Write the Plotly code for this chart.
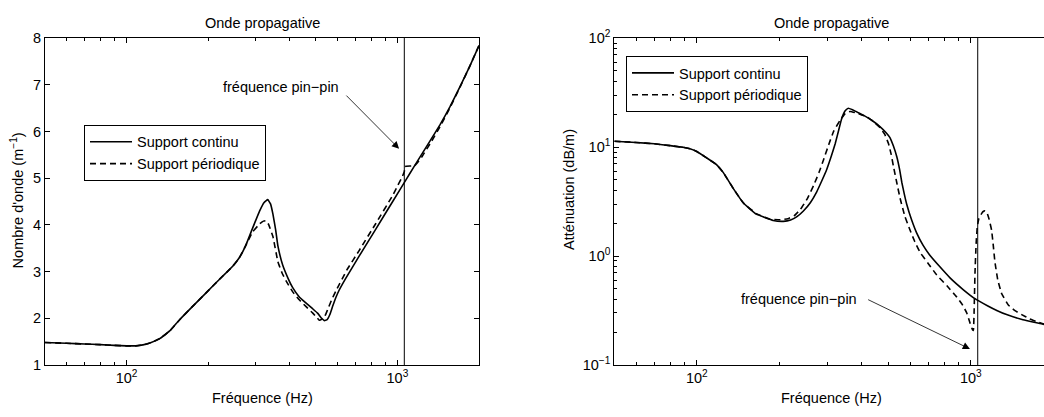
import math
import plotly.graph_objects as go

# ---------------- data ----------------
TITLE = "Onde propagative"
X_LABEL = "Fréquence (Hz)"
Y1_LABEL = "Nombre d'onde (m<sup>−1</sup>)"
Y2_LABEL = "Atténuation (dB/m)"
NAME_CONT = "Support continu"
NAME_PER = "Support périodique"
PIN_TEXT = "fréquence pin−pin"
F_PIN = 1060

# left: wavenumber, solid (support continu)
k_cont_f = [50, 60, 70, 80, 90, 100, 108, 115, 122, 133, 145, 157, 175, 197, 220, 247, 261, 275,
            292, 310, 322, 332, 340, 347, 355, 362, 377, 395, 410, 435, 459, 485, 507, 525, 537,
            550, 563, 576, 593, 609, 645, 722, 832, 958, 1079, 1150, 1235, 1330, 1435, 1560,
            1702, 1850, 2000]
k_cont_v = [1.48, 1.465, 1.45, 1.435, 1.42, 1.41, 1.41, 1.43, 1.47, 1.57, 1.74, 1.97, 2.25, 2.55,
            2.83, 3.12, 3.30, 3.55, 3.93, 4.30, 4.48, 4.54, 4.45, 4.23, 3.90, 3.55, 3.14, 2.85,
            2.66, 2.45, 2.33, 2.21, 2.11, 2.00, 1.95, 1.97, 2.08, 2.25, 2.45, 2.60, 2.86, 3.33,
            3.91, 4.49, 4.98, 5.24, 5.53, 5.83, 6.14, 6.52, 6.96, 7.40, 7.84]

# left: wavenumber, dashed (support periodique)
k_per_f = [50, 60, 70, 80, 90, 100, 108, 115, 122, 133, 145, 157, 175, 197, 220, 247, 261, 275,
           292, 310, 320, 327, 335, 347, 362, 375, 388, 410, 435, 460, 487, 505, 514, 525, 540,
           552, 570, 593, 650, 722, 832, 958, 1000, 1040, 1060, 1066, 1160, 1235, 1330, 1435,
           1560, 1702, 1850, 2000]
k_per_v = [1.48, 1.465, 1.45, 1.435, 1.42, 1.41, 1.41, 1.43, 1.47, 1.57, 1.74, 1.97, 2.25, 2.55,
           2.83, 3.12, 3.30, 3.55, 3.85, 4.02, 4.08, 4.09, 4.00, 3.75, 3.21, 2.97, 2.80, 2.57,
           2.39, 2.25, 2.11, 2.01, 1.96, 1.98, 2.05, 2.18, 2.38, 2.59, 3.03, 3.45, 4.03, 4.62,
           4.83, 5.02, 5.14, 5.25, 5.27, 5.47, 5.77, 6.10, 6.50, 6.95, 7.40, 7.84]

# right: attenuation, solid
a_cont_f = [50, 60, 70, 80, 90, 95, 100, 109, 118, 125, 136, 148, 165, 190, 207, 220, 232, 245,
            260, 274, 286, 298, 310, 320, 330, 338, 348, 357, 370, 385, 405, 435, 466, 490, 507,
            522, 537, 550, 560, 572, 584, 608, 635, 670, 710, 770, 840, 940, 1036, 1150, 1250,
            1351, 1550, 1837, 2000]
a_cont_v = [11.3, 11.0, 10.7, 10.3, 9.9, 9.6, 9.1, 7.9, 6.9, 5.82, 4.15, 3.06, 2.42, 2.12, 2.08,
            2.14, 2.3, 2.59, 3.1, 3.88, 4.9, 6.22, 8.3, 10.7, 14.5, 18.3, 21.5, 22.7, 22.0, 20.9,
            19.6, 17.6, 15.4, 13.6, 12.2, 10.2, 8.15, 6.2, 4.75, 3.7, 2.97, 2.15, 1.62, 1.25,
            1.01, 0.80, 0.63, 0.49, 0.406, 0.35, 0.315, 0.29, 0.26, 0.237, 0.225]

# right: attenuation, dashed
a_per_f = [50, 60, 70, 80, 90, 95, 100, 109, 118, 125, 136, 148, 165, 185, 202, 215, 227, 239,
           253, 267, 279, 290, 303, 316, 334, 348, 363, 380, 400, 418, 440, 467, 485, 501, 512,
           522, 537, 552, 575, 600, 625, 653, 700, 751, 820, 889, 930, 967, 995, 1015, 1022,
           1028, 1036, 1046, 1056, 1070, 1095, 1110, 1127, 1145, 1165, 1191, 1208, 1225, 1255,
           1297, 1371, 1450, 1534, 1640, 1740, 1850, 2000]
a_per_v = [11.3, 11.0, 10.7, 10.3, 9.9, 9.6, 9.1, 7.9, 6.9, 5.82, 4.15, 3.06, 2.45, 2.18, 2.15,
           2.2, 2.35, 2.68, 3.35, 4.45, 5.8, 7.61, 10.5, 14.0, 17.7, 20.3, 21.2, 20.6, 19.7,
           18.9, 17.2, 15.0, 13.1, 10.7, 8.6, 6.66, 4.7, 3.39, 2.3, 1.73, 1.35, 1.08, 0.85,
           0.67, 0.53, 0.42, 0.36, 0.30, 0.24, 0.21, 0.207, 0.3, 0.7, 1.3, 1.85, 2.2, 2.45,
           2.56, 2.59, 2.5, 2.2, 1.73, 1.25, 0.88, 0.6, 0.45, 0.355, 0.315, 0.29, 0.265, 0.25,
           0.237, 0.225]

x_tickvals = [100, 1000]
x_ticktext = ["10<sup>2</sup>", "10<sup>3</sup>"]
y1_tickvals = [1, 2, 3, 4, 5, 6, 7, 8]
y2_tickvals = [0.1, 1, 10, 100]
y2_ticktext = ["10<sup>−1</sup>", "10<sup>0</sup>", "10<sup>1</sup>", "10<sup>2</sup>"]

# ---------------- figure ----------------
W, H = 1044, 417
FONT = "Liberation Sans, Arial, Helvetica, sans-serif"
FS = 14.5


def px_x(p):
    return p / W


def px_y(p):
    return (H - p) / H


minor_x = [m * 10 ** e for e in (1, 2, 3) for m in range(2, 10) if 50 <= m * 10 ** e <= 2000]
minor_y2 = [m * 10 ** e for e in (-1, 0, 1) for m in range(2, 10)]

fig = go.Figure()
line_solid = dict(color="black", width=1.6, shape="spline", smoothing=0.3)
line_dash = dict(color="black", width=1.6, dash="6px,4px", shape="spline", smoothing=0.3)

fig.add_trace(go.Scatter(x=k_cont_f, y=k_cont_v, mode="lines", name=NAME_CONT, line=line_solid,
                         xaxis="x", yaxis="y", legend="legend"))
fig.add_trace(go.Scatter(x=k_per_f, y=k_per_v, mode="lines", name=NAME_PER, line=line_dash,
                         xaxis="x", yaxis="y", legend="legend"))
fig.add_trace(go.Scatter(x=a_cont_f, y=a_cont_v, mode="lines", name=NAME_CONT, line=line_solid,
                         xaxis="x2", yaxis="y2", legend="legend2"))
fig.add_trace(go.Scatter(x=a_per_f, y=a_per_v, mode="lines", name=NAME_PER, line=line_dash,
                         xaxis="x2", yaxis="y2", legend="legend2"))

# axis geometry (pixels)
L_X0, L_X1 = 45, 479
R_X0 = 614.3
P_TOP, P_BOT = 29.3, 371
R_XMAX = math.log10(50) + (W - R_X0) / 274.0

axis_common = dict(showgrid=False, zeroline=False, linecolor="black", linewidth=1,
                   ticks="inside", ticklen=5, tickcolor="black", tickwidth=1,
                   tickfont=dict(family=FONT, size=FS, color="black"))

legend_common = dict(xanchor="left", yanchor="top", bordercolor="black", borderwidth=1,
                     bgcolor="white", font=dict(family=FONT, size=FS, color="black"),
                     tracegroupgap=0, itemwidth=42)

fig.update_layout(
    width=W, height=H, margin=dict(l=0, r=0, t=0, b=0),
    paper_bgcolor="white", plot_bgcolor="white",
    font=dict(family=FONT, size=FS, color="black"),
    xaxis=dict(type="log", domain=[px_x(L_X0), px_x(L_X1)],
               range=[math.log10(50), math.log10(2000)], anchor="y", mirror="allticks",
               tickmode="array", tickvals=x_tickvals, ticktext=x_ticktext,
               minor=dict(tickmode="array", tickvals=minor_x, ticks="inside", ticklen=3,
                          tickcolor="black"),
               **axis_common),
    yaxis=dict(domain=[px_y(P_BOT), px_y(P_TOP)], range=[1, 8], anchor="x",
               mirror="allticks", tickmode="array", tickvals=y1_tickvals, **axis_common),
    xaxis2=dict(type="log", domain=[px_x(R_X0), 1.0],
                range=[math.log10(50), R_XMAX], anchor="y2", mirror="allticks",
                tickmode="array", tickvals=x_tickvals, ticktext=x_ticktext,
                minor=dict(tickmode="array", tickvals=minor_x, ticks="inside", ticklen=3,
                           tickcolor="black"),
                **axis_common),
    yaxis2=dict(type="log", domain=[px_y(P_BOT), px_y(P_TOP)], range=[-1, 2], anchor="x2",
                mirror=False, tickmode="array", tickvals=y2_tickvals, ticktext=y2_ticktext,
                minor=dict(tickmode="array", tickvals=minor_y2, ticks="inside", ticklen=3,
                           tickcolor="black"),
                **axis_common),
    legend=dict(x=px_x(84), y=px_y(120), **legend_common),
    legend2=dict(x=px_x(626), y=px_y(48), **legend_common),
    showlegend=True,
)

# vertical pin-pin lines
for xr, yr in (("x", "y domain"), ("x2", "y2 domain")):
    fig.add_shape(type="line", xref=xr, yref=yr, x0=F_PIN, x1=F_PIN, y0=0, y1=1,
                  line=dict(color="black", width=1))

ann = []
# titles
ann.append(dict(text=TITLE, xref="paper", yref="paper", x=px_x(262), y=px_y(13.5),
                showarrow=False, xanchor="center", yanchor="middle"))
ann.append(dict(text=TITLE, xref="paper", yref="paper", x=px_x(831), y=px_y(13.5),
                showarrow=False, xanchor="center", yanchor="middle"))
# axis titles
ann.append(dict(text=X_LABEL, xref="paper", yref="paper", x=px_x(262), y=px_y(406),
                showarrow=False, xanchor="center", yanchor="middle"))
ann.append(dict(text=X_LABEL, xref="paper", yref="paper", x=px_x(831), y=px_y(406),
                showarrow=False, xanchor="center", yanchor="middle"))
ann.append(dict(text=Y1_LABEL, xref="paper", yref="paper", x=px_x(17), y=px_y(199),
                showarrow=False, textangle=-90, xanchor="center", yanchor="middle"))
ann.append(dict(text=Y2_LABEL, xref="paper", yref="paper", x=px_x(569), y=px_y(188),
                showarrow=False, textangle=-90, xanchor="center", yanchor="middle"))
# pin-pin labels
ann.append(dict(text=PIN_TEXT, xref="x", yref="y", x=2.570, y=6.96, showarrow=False,
                xanchor="center", yanchor="middle"))
ann.append(dict(text=PIN_TEXT, xref="x2", yref="y2", x=2.373, y=-0.392, showarrow=False,
                xanchor="center", yanchor="middle"))
# arrows
ann.append(dict(text="", xref="x", yref="y", x=3.006, y=5.63, axref="x", ayref="y",
                ax=2.806, ay=6.8, showarrow=True, arrowhead=2, arrowsize=1.8,
                arrowwidth=0.8, arrowcolor="black"))
ann.append(dict(text="", xref="x2", yref="y2", x=2.997, y=-0.853, axref="x2", ayref="y2",
                ax=2.62, ay=-0.394, showarrow=True, arrowhead=2, arrowsize=1.8,
                arrowwidth=0.8, arrowcolor="black"))
fig.update_layout(annotations=ann)

fig.write_html("out.html")
